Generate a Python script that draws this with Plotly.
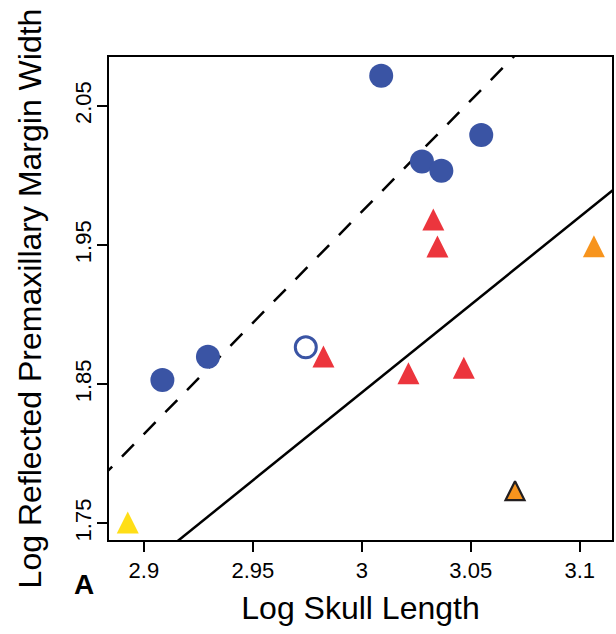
import plotly.graph_objects as go

# ---- data ----
blue_x = [2.9085, 2.9294, 3.0089, 3.0276, 3.0365, 3.0548]
blue_y = [1.8530, 1.8698, 2.0718, 2.0100, 2.0035, 2.0291]

open_x = [2.9743]
open_y = [1.8765]

red_x = [3.0328, 3.0347, 3.0214, 3.0468, 2.9824]
red_y = [1.9657, 1.9464, 1.8552, 1.8591, 1.8673]

orange_outlined_x = [3.0703]
orange_outlined_y = [1.7712]

orange_x = [3.1065]
orange_y = [1.9465]

yellow_x = [2.8926]
yellow_y = [1.7480]

# fitted lines (end points)
solid_x = [2.88, 3.12]
solid_y = [1.6924, 1.9956]
dashed_x = [2.88, 3.12]
dashed_y = [1.7821, 2.1659]

x_ticks = [2.9, 2.95, 3.0, 3.05, 3.1]
x_tick_text = ["2.9", "2.95", "3", "3.05", "3.1"]
y_ticks = [1.75, 1.85, 1.95, 2.05]
y_tick_text = ["1.75", "1.85", "1.95", "2.05"]

BLUE = "#3A54A4"
RED = "#EC353D"
ORANGE = "#F7941D"
YELLOW = "#FFDE17"

TRI = 22


def tri_marker(color, size=TRI, line_color=None, line_width=0):
    # upward triangle (equal width and height) centred on its centroid
    return dict(
        symbol="arrow-down", angle=180, standoff=size * 2 / 3,
        size=size, color=color,
        line=dict(color=line_color or color, width=line_width),
    )


fig = go.Figure()

fig.add_trace(go.Scatter(x=solid_x, y=solid_y, mode="lines",
                         line=dict(color="black", width=2.5), hoverinfo="skip"))
fig.add_trace(go.Scatter(x=dashed_x, y=dashed_y, mode="lines",
                         line=dict(color="black", width=2.5, dash="17px,14px"),
                         hoverinfo="skip"))

fig.add_trace(go.Scatter(x=blue_x, y=blue_y, mode="markers",
                         marker=dict(symbol="circle", size=24, color=BLUE,
                                     line=dict(width=0))))
fig.add_trace(go.Scatter(x=open_x, y=open_y, mode="markers",
                         marker=dict(symbol="circle", size=21, color="white",
                                     line=dict(color=BLUE, width=3))))
fig.add_trace(go.Scatter(x=red_x, y=red_y, mode="markers",
                         marker=tri_marker(RED)))
fig.add_trace(go.Scatter(x=orange_x, y=orange_y, mode="markers",
                         marker=tri_marker(ORANGE)))
fig.add_trace(go.Scatter(x=yellow_x, y=yellow_y, mode="markers",
                         marker=tri_marker(YELLOW)))
fig.add_trace(go.Scatter(x=orange_outlined_x, y=orange_outlined_y, mode="markers",
                         marker=tri_marker(ORANGE, size=19, line_color="#231F20",
                                           line_width=2.2)))

FONT = "Liberation Sans, Arial, sans-serif"

L, R, T, B = 109, 2, 57, 94
W, H = 616, 634
pw = W - L - R
ph = H - T - B

fig.update_layout(
    width=W, height=H,
    margin=dict(l=L, r=R, t=T, b=B),
    paper_bgcolor="white", plot_bgcolor="white",
    showlegend=False,
    font=dict(family=FONT, color="black"),
    xaxis=dict(
        range=[2.884, 3.1148], showgrid=False, zeroline=False,
        showline=True, linecolor="black", linewidth=2, mirror=True,
        ticks="outside", ticklen=10, tickwidth=2, tickcolor="black",
        tickvals=x_ticks, ticktext=x_tick_text, ticklabelstandoff=0,
        tickfont=dict(size=22, family=FONT),
        title=dict(text="Log Skull Length", font=dict(size=32, family=FONT),
                   standoff=14),
    ),
    yaxis=dict(
        range=[1.738, 2.0852], showgrid=False, zeroline=False,
        showline=True, linecolor="black", linewidth=2, mirror=True,
        ticks="outside", ticklen=10, tickwidth=2, tickcolor="black",
        tickvals=y_ticks, ticktext=y_tick_text, tickangle=-90,
        ticklabelstandoff=-3,
        tickfont=dict(size=22, family=FONT),
        title=dict(text="Log Reflected Premaxillary Margin Width",
                   font=dict(size=32, family=FONT), standoff=20),
    ),
    annotations=[dict(text="<b>A</b>", x=(84 - L) / pw, y=(540 - 584) / ph,
                      xref="paper", yref="paper", xanchor="center",
                      yanchor="middle", showarrow=False,
                      font=dict(size=28, family=FONT))],
)

fig.write_html(
    "out.html",
    config={"displayModeBar": False},
    post_script="document.body.style.margin='0';"
                "document.body.style.overflow='hidden';",
)
